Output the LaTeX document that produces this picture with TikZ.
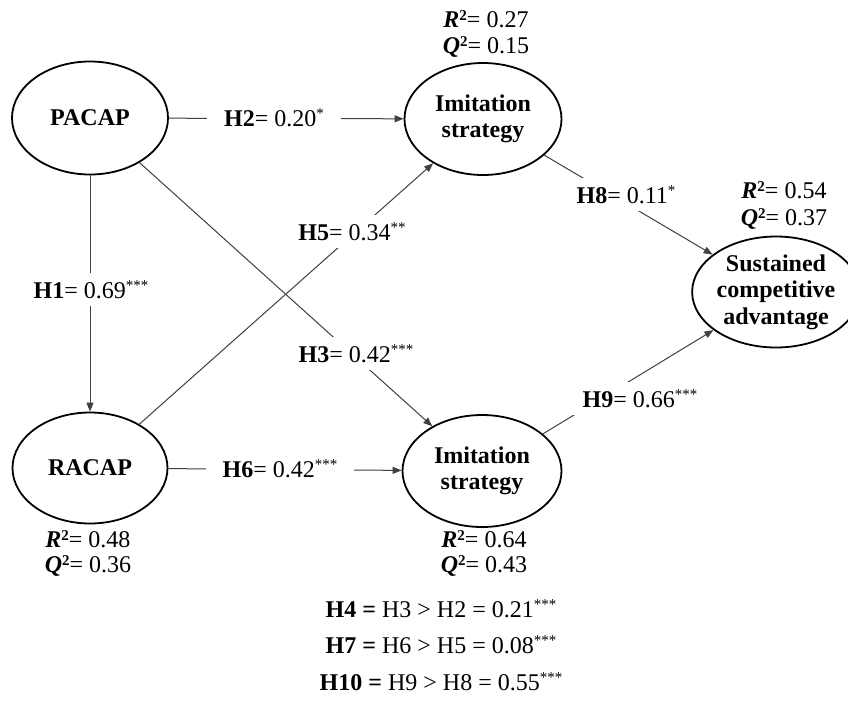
\documentclass[tikz,border=0pt]{standalone}
\usepackage{fontspec}
\setmainfont{Liberation Serif}
\usetikzlibrary{shapes.geometric,arrows.meta}
\newcommand{\sig}[1]{{\fontsize{15}{15}\selectfont\raisebox{7.5pt}{#1}}}
\newcommand{\Rsq}{\textbf{\textit{R}{\fontsize{15}{15}\selectfont\raisebox{7pt}{2}}}}
\newcommand{\Qsq}{\textbf{\textit{Q}{\fontsize{15}{15}\selectfont\raisebox{7pt}{2}}}}
\begin{document}
\begin{tikzpicture}[x=1pt,y=-1pt,
  every node/.style={font=\fontsize{24}{26}\selectfont},
  ell/.style={ellipse,draw,line width=1.8pt,inner sep=0pt,align=center,
    font=\fontsize{24}{26.5}\selectfont\bfseries},
  conn/.style={draw=black!75,line width=1pt,-{Triangle[length=9pt,width=7pt]}},
  lbl/.style={fill=white,inner xsep=17pt,inner ysep=8pt,anchor=base},
  stat/.style={anchor=base,inner sep=0pt}]
\useasboundingbox[fill=white] (0,0) rectangle (848,702);
% constructs
\node[ell,minimum width=156pt,minimum height=113pt] (pacap) at (90,118) {PACAP};
\node[ell,minimum width=157pt,minimum height=112pt] (imt) at (483,119) {Imitation\\strategy};
\node[ell,minimum width=143pt,minimum height=111pt] (sca) at (776,292) {Sustained\\competitive\\advantage};
\node[ell,minimum width=155pt,minimum height=111pt] (racap) at (90,468) {RACAP};
\node[ell,minimum width=159pt,minimum height=112pt] (imb) at (482,471) {Imitation\\strategy};
% paths
\draw[conn] (pacap) -- (imt);
\draw[conn] (pacap) -- (racap);
\draw[conn] (pacap) -- (imb);
\draw[conn] (racap) -- (imt);
\draw[conn] (racap) -- (imb);
\draw[conn] (imt) -- (sca);
\draw[conn] (imb) -- (sca);
% path labels
\node[lbl] (h2) at (274,126) {\textbf{H2}= 0.20\sig{*}};
\node[lbl] (h1) at (91,298) {\textbf{H1}= 0.69\sig{***}};
\node[lbl] (h5) at (352,240) {\textbf{H5}= 0.34\sig{**}};
\node[lbl] (h3) at (356,362) {\textbf{H3}= 0.42\sig{***}};
\node[lbl] (h6) at (280,477) {\textbf{H6}= 0.42\sig{***}};
\node[lbl] (h8) at (626,203) {\textbf{H8}= 0.11\sig{*}};
\node[lbl] (h9) at (640,407) {\textbf{H9}= 0.66\sig{***}};
% R2 / Q2
\node[stat] (imtR) at (486,27) {\Rsq= 0.27};
\node[stat] (imtQ) at (486,53) {\Qsq= 0.15};
\node[stat] (scaR) at (784,198) {\Rsq= 0.54};
\node[stat] (scaQ) at (784,225) {\Qsq= 0.37};
\node[stat] (racR) at (88,547) {\Rsq= 0.48};
\node[stat] (racQ) at (88,572) {\Qsq= 0.36};
\node[stat] (imbR) at (484,547) {\Rsq= 0.64};
\node[stat] (imbQ) at (484,572) {\Qsq= 0.43};
% comparisons
\node[stat] (h4) at (441,617) {\textbf{H4 =} H3 > H2 = 0.21\sig{***}};
\node[stat] (h7) at (441,653) {\textbf{H7 =} H6 > H5 = 0.08\sig{***}};
\node[stat] (h10) at (441,690) {\textbf{H10 =} H9 > H8 = 0.55\sig{***}};
\end{tikzpicture}
\end{document}
